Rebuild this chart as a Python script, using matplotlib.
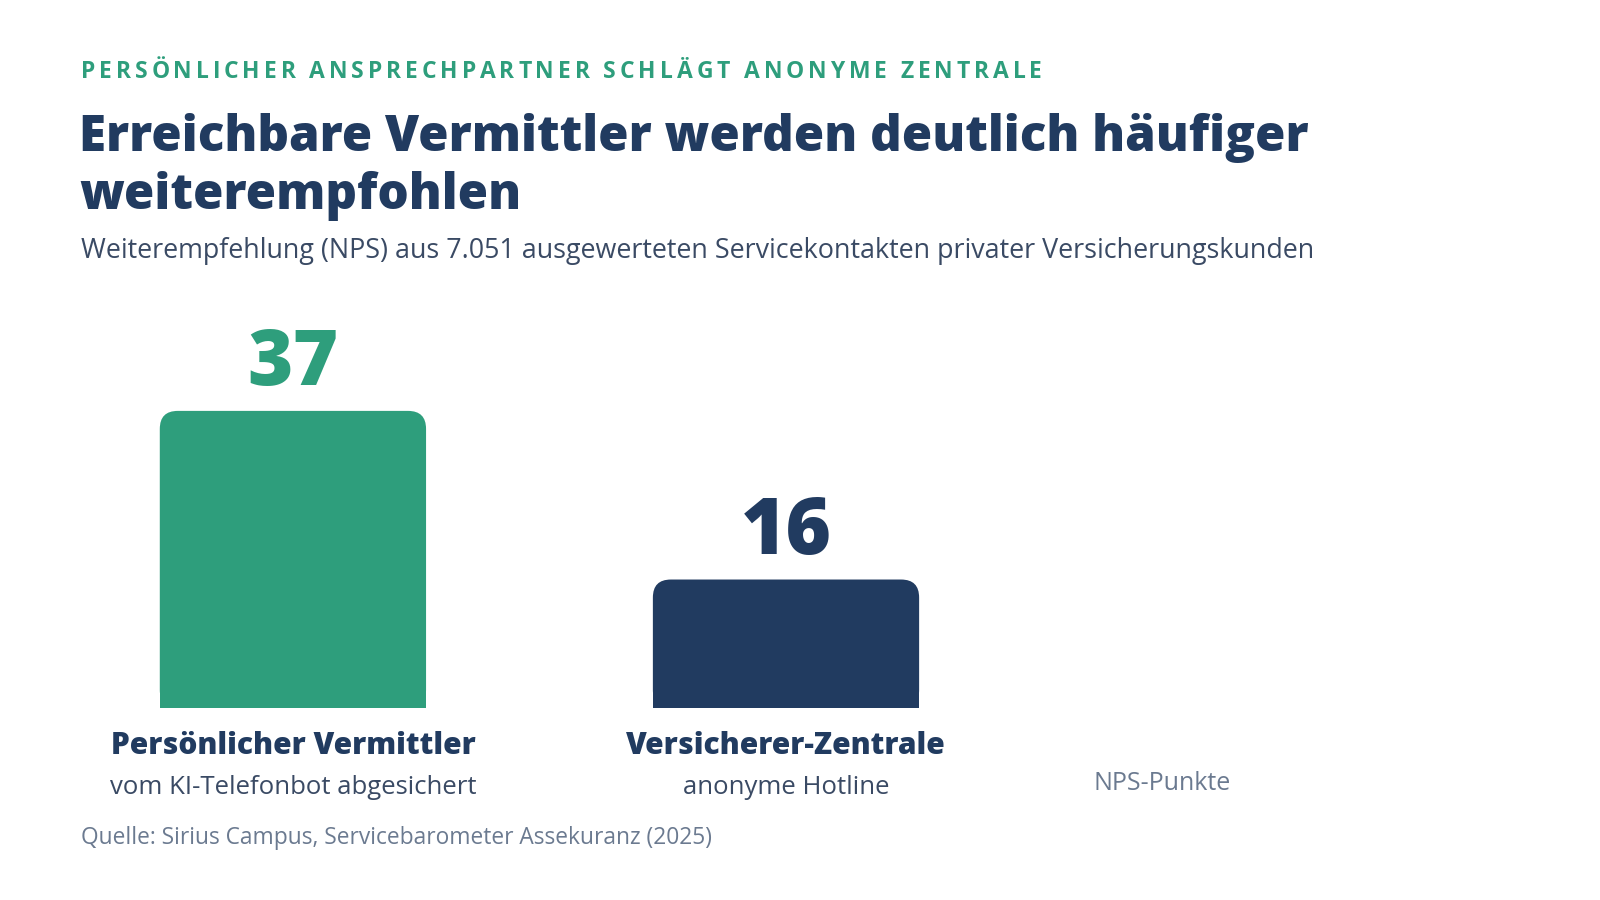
import matplotlib
matplotlib.use("Agg")
import matplotlib.pyplot as plt
from matplotlib.patches import FancyBboxPatch, Rectangle

# Daten
kategorien = ["Persönlicher Vermittler", "Versicherer-Zentrale"]
unterzeilen = ["vom KI-Telefonbot abgesichert", "anonyme Hotline"]
nps_werte = [37, 16]
farben = ["#2e9e7c", "#213b60"]

eyebrow = "PERSÖNLICHER ANSPRECHPARTNER SCHLÄGT ANONYME ZENTRALE"
titel = "Erreichbare Vermittler werden deutlich häufiger\nweiterempfohlen"
untertitel = "Weiterempfehlung (NPS) aus 7.051 ausgewerteten Servicekontakten privater Versicherungskunden"
quelle = "Quelle: Sirius Campus, Servicebarometer Assekuranz (2025)"
einheit = "NPS-Punkte"

NAVY = "#213b60"
GRUEN = "#2e9e7c"
GRAU = "#6b7a90"
SLATE = "#3a4a64"

plt.rcParams['font.family'] = ['Open Sans', 'DejaVu Sans']

W, H = 1600, 900
fig = plt.figure(figsize=(16, 9), dpi=100)
fig.patch.set_facecolor("white")


def px(x, y):
    # Pixelkoordinaten (von oben) -> Figure-Koordinaten
    return x / W, 1 - y / H


# Eyebrow mit Sperrung, Zeichen für Zeichen
renderer = fig.canvas.get_renderer()
xpos = 81
spacing = 3.9
for ch in eyebrow:
    t = fig.text(*px(xpos, 72), ch, fontsize=16.5, fontweight='bold', color=GRUEN,
                 va='center', ha='left')
    w = t.get_window_extent(renderer).width
    if ch == " ":
        w = 6
    xpos += w + spacing

fig.text(*px(79, 167), titel, fontsize=35.5, fontweight='heavy', color=NAVY,
         va='center', ha='left', linespacing=1.2)
fig.text(*px(81, 251), untertitel, fontsize=19.4, color=SLATE, va='center', ha='left')
fig.text(*px(81, 838), quelle, fontsize=16.4, color=GRAU, va='center', ha='left')

# Achse für die Balken
ax = fig.add_axes([145 / W, 192 / H, 1282 / W, 401.5 / H])
ax.set_xlim(-0.3, 2.3)
ax.set_ylim(0, 50)
ax.axis('off')

breite = 0.54
bars = ax.bar(range(len(nps_werte)), nps_werte, width=breite, color=farben, alpha=0)

# Seitenverhältnis Daten pro Pixel für runde Ecken
x_per_px = 2.6 / 1282
y_per_px = 50 / 401.5
r_px = 18
for b, farbe in zip(bars, farben):
    x0, w, h = b.get_x(), b.get_width(), b.get_height()
    rund = FancyBboxPatch((x0, 0), w, h,
                          boxstyle=f"round,pad=0,rounding_size={r_px * x_per_px}",
                          mutation_aspect=y_per_px / x_per_px,
                          facecolor=farbe, edgecolor='none')
    ax.add_patch(rund)
    ax.add_patch(Rectangle((x0, 0), w, h - r_px * y_per_px * 1.2,
                           facecolor=farbe, edgecolor='none'))

for i, (wert, farbe) in enumerate(zip(nps_werte, farben)):
    ax.annotate(str(wert), (i, wert), xytext=(0, 33), textcoords='offset points',
                ha='center', va='center', fontsize=56, fontweight='heavy', color=farbe)
    ax.annotate(kategorien[i], (i, 0), xytext=(0, -27.5), textcoords='offset points',
                ha='center', va='center', fontsize=21.5, fontweight='heavy', color=NAVY)
    ax.annotate(unterzeilen[i], (i, 0), xytext=(0, -57), textcoords='offset points',
                ha='center', va='center', fontsize=18.5, color=SLATE)

fig.text(*px(1162, 783), einheit, fontsize=18, color=GRAU, va='center', ha='center')

fig.savefig("out.png", dpi=100, facecolor="white")
